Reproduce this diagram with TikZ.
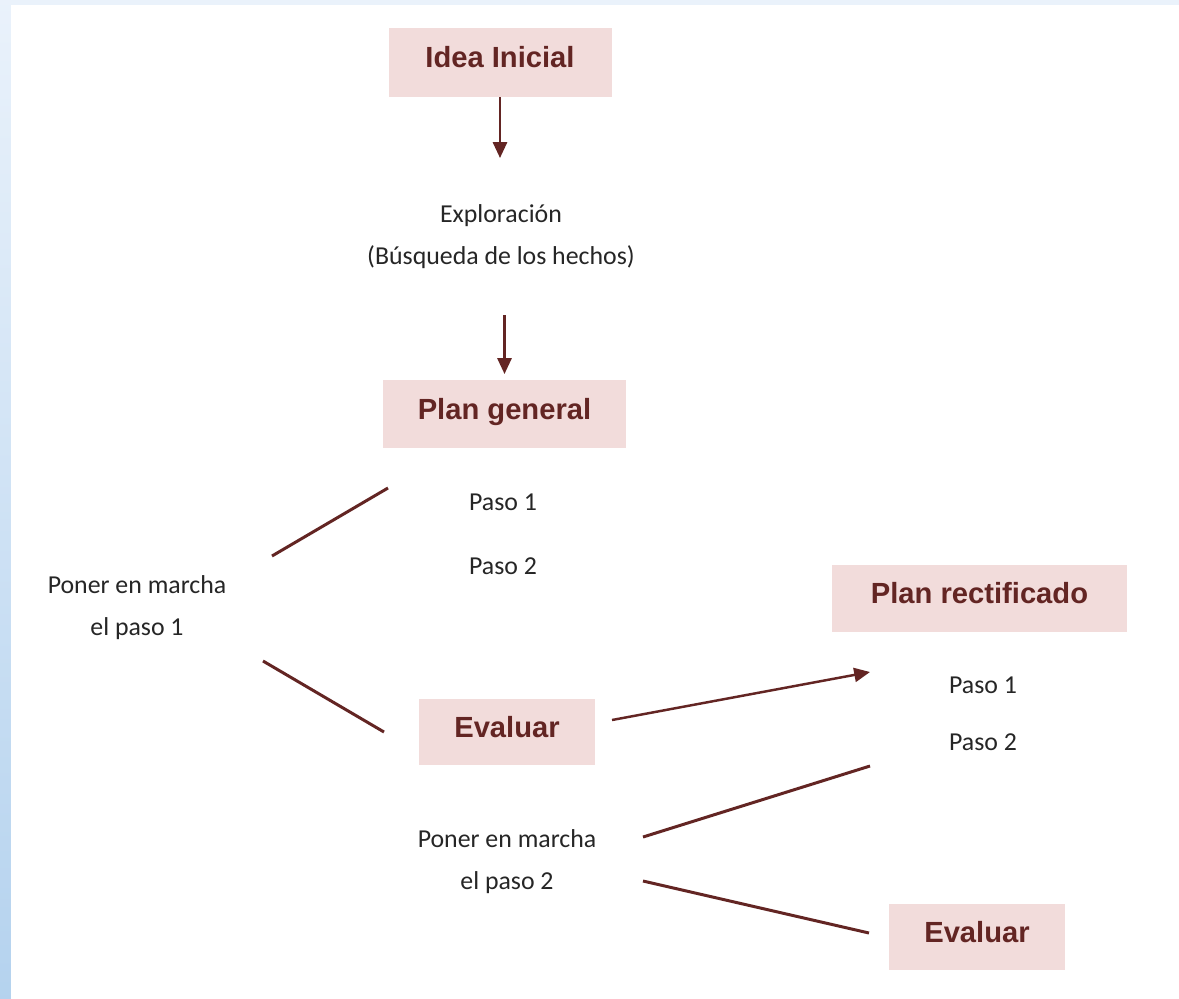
\documentclass[tikz,border=0pt]{standalone}
\usepackage{fontspec}
\setmainfont{Carlito}
\newfontfamily\arialfont{Liberation Sans}
\usetikzlibrary{arrows.meta}
\definecolor{boxfill}{HTML}{F2DCDB}
\definecolor{lnred}{HTML}{632523}
\definecolor{bodytext}{HTML}{262626}
\definecolor{bgtop}{HTML}{EAF2FB}
\definecolor{bgbot}{HTML}{B4D2EE}
\tikzset{
  pbox/.style={fill=boxfill, inner sep=0pt, text=lnred,
    font=\arialfont\bfseries\fontsize{16.6}{20}\selectfont,
    text height=11.9pt, text depth=5.7pt},
  plain/.style={font=\fontsize{14.7}{23.8}\selectfont, text=bodytext,
    inner sep=0pt, anchor=base, align=center},
  conn/.style={draw=lnred, line width=1.7pt},
  arr/.style={draw=lnred, line width=1.4pt, -{Triangle[length=9pt,width=8pt]}},
}
\begin{document}
\begin{tikzpicture}[x=0.02cm, y=-0.02cm]
\useasboundingbox (0,0) rectangle (1179,998);
% background
\shade[top color=bgtop, bottom color=bgbot] (-5,-5) rectangle (1190,1010);
\fill[white] (11,5) rectangle (1190,1010);

% boxes
\node[pbox, minimum width={223*0.02cm}, minimum height={69*0.02cm}] (idea) at (500,62.5) {Idea Inicial};
\node[pbox, minimum width={243*0.02cm}, minimum height={68*0.02cm}] (pg) at (504.5,414) {Plan general};
\node[pbox, minimum width={176*0.02cm}, minimum height={66*0.02cm}] (ev1) at (507,732) {Evaluar};
\node[pbox, minimum width={295*0.02cm}, minimum height={67*0.02cm}] (pr) at (979.5,598.5) {Plan rectificado};
\node[pbox, minimum width={176*0.02cm}, minimum height={66*0.02cm}] (ev2) at (977,937) {Evaluar};

% plain texts (base anchor = baseline of the last line)
\node[plain] (explo) at (501,264) {Exploración\\(Búsqueda de los hechos)};
\node[plain] (p1l) at (503,510) {Paso 1};
\node[plain] (p2l) at (503,574) {Paso 2};
\node[plain] (pm1) at (137,635) {Poner en marcha\\el paso 1};
\node[plain] (pm2) at (507,889) {Poner en marcha\\el paso 2};
\node[plain] (p1r) at (983,693) {Paso 1};
\node[plain] (p2r) at (983,750) {Paso 2};

% arrows
\draw[arr] (idea.south) -- (idea.south |- 0,158);
\draw[arr] (pg.north |- 0,315) -- (pg.north |- 0,374);

% connector end points
\coordinate (a1) at (272,556);
\coordinate (a2) at (388,488);
\coordinate (b1) at (263,661);
\coordinate (b2) at (384,732);
\coordinate (e1) at (612,720);
\coordinate (e2) at (870,672);
\coordinate (c1) at (643,837);
\coordinate (c2) at (870,766);
\coordinate (d1) at (643,881);
\coordinate (d2) at (869,933);

\draw[conn] (a1) -- (a2);
\draw[conn] (b1) -- (b2);
\draw[arr] (e1) -- (e2);
\draw[conn] (c1) -- (c2);
\draw[conn] (d1) -- (d2);
\end{tikzpicture}
\end{document}
